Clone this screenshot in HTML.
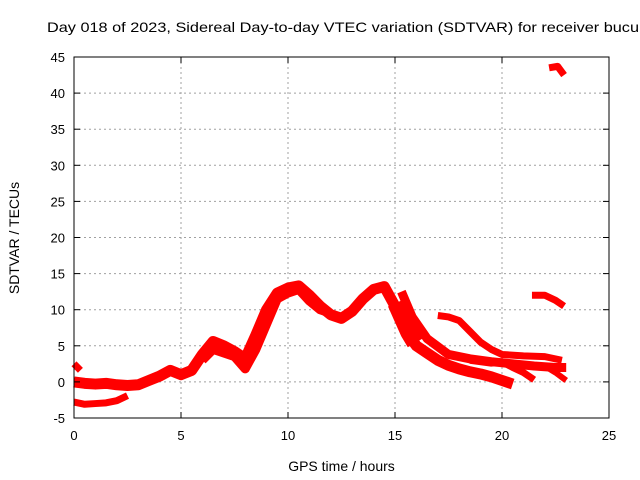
<!DOCTYPE html>
<html><head><meta charset="utf-8"><style>
html,body{margin:0;padding:0;background:#fff;overflow:hidden}
svg{display:block;font-family:"Liberation Sans",sans-serif}
</style></head><body>
<svg id="chart" width="640" height="480">
<text x="47" y="32" font-size="14" textLength="592" lengthAdjust="spacingAndGlyphs">Day 018 of 2023, Sidereal Day-to-day VTEC variation (SDTVAR) for receiver bucu</text>
<g id="grid"></g><g id="series"></g><g id="axes"></g>
</svg>
<script>
const xTicks=[0,5,10,15,20,25];
const yTicks=[-5,0,5,10,15,20,25,30,35,40,45];
const mainH=[0,0.5,1,1.5,2,2.5,3,3.5,4,4.5,5,5.5,6,6.5,7,7.5,8,8.5,9,9.5,10,10.5,11,11.5,12,12.5,13,13.5,14,14.5,15,15.5,16,16.5,17,17.5,18,18.5,19,19.5,20,20.5];
const mainV=[0,-0.2,-0.3,-0.2,-0.4,-0.5,-0.4,0.2,0.8,1.6,1.0,1.6,3.8,5.6,5.0,4.2,3.2,6.5,10,12.3,13,13.3,12,10.5,9.3,8.8,9.8,11.5,12.8,13.2,10.5,7,5,4,3,2.3,1.8,1.4,1.1,0.7,0.2,-0.3];
const bandH=[6,6.5,7,7.5,8,8.5,9,9.5,10,10.5,11,11.5,12];
const bandV=[3,4.5,4,3.5,1.8,4.5,8,11.5,12.3,12.8,11.2,10,9.5];
const lowH=[0,0.5,1,1.5,2,2.5];
const lowV=[-2.8,-3.1,-3.0,-2.9,-2.6,-1.9];
const startH=[0,0.3];
const startV=[2.5,1.6];
const blobH=[15.1,15.4,15.7,16];
const blobV=[11,9,7,5.5];
const br1H=[15.3,15.8,16.5,17.5,18.5,19.5,20.5,21.5,22.5,23];
const br1V=[12.5,9,6,3.8,3.2,2.8,2.5,2.2,2.0,2.0];
const br2H=[17,17.5,18,18.5,19,19.5,20,21,22,22.8];
const br2V=[9.2,9,8.5,7,5.5,4.5,3.8,3.6,3.5,3.0];
const br3H=[18.5,19.5,20,20.5,21,21.5];
const br3V=[3,2.6,2.8,2.0,1.3,0.3];
const br4H=[21,22,22.5,23];
const br4V=[2.2,2.2,1.3,0.2];
const arc1H=[21.4,22,22.5,22.9];
const arc1V=[12,12,11.3,10.5];
const arc2H=[22.2,22.6,22.9];
const arc2V=[43.5,43.7,42.5];
const X0=74,X1=609,Y0=418,Y1=57;
const sx=h=>X0+(h-0)/(25-0)*(X1-X0);
const sy=v=>Y0-(v+5)/50*(Y0-Y1);
const NS="http://www.w3.org/2000/svg";
const grid=document.getElementById('grid'),axes=document.getElementById('axes'),ser=document.getElementById('series');
function mk(tag,attrs,parent){const e=document.createElementNS(NS,tag);for(const k in attrs)e.setAttribute(k,attrs[k]);parent.appendChild(e);return e;}
xTicks.forEach(t=>{
 if(t>0&&t<25){const g=mk('line',{x1:sx(t),x2:sx(t),y1:Y1,y2:Y0,stroke:'#a0a0a0','stroke-dasharray':'2,3'},grid);
 
 }
 mk('line',{x1:sx(t),x2:sx(t),y1:Y0,y2:Y0-6,stroke:'#000'},axes);
 mk('line',{x1:sx(t),x2:sx(t),y1:Y1,y2:Y1+6,stroke:'#000'},axes);
 const l=mk('text',{x:sx(t),y:Y0+22,'text-anchor':'middle','font-size':'13'},axes);l.textContent=t;
 
 
});
yTicks.forEach(t=>{
 if(t>-5&&t<45){const g=mk('line',{x1:X0,x2:X1,y1:sy(t),y2:sy(t),stroke:'#a0a0a0','stroke-dasharray':'2,3'},grid);
 
 }
 mk('line',{x1:X0,x2:X0+6,y1:sy(t),y2:sy(t),stroke:'#000'},axes);
 mk('line',{x1:X1,x2:X1-6,y1:sy(t),y2:sy(t),stroke:'#000'},axes);
 const l=mk('text',{x:X0-9,y:sy(t)+5,'text-anchor':'end','font-size':'13'},axes);l.textContent=t;
 
 
});
const fr=mk('rect',{x:X0,y:Y1,width:X1-X0,height:Y0-Y1,fill:'none',stroke:'#000'},axes);


const xt=mk('text',{x:(X0+X1)/2,y:471,'text-anchor':'middle','font-size':'14'},axes);xt.textContent='GPS time / hours';


const yt=mk('text',{x:0,y:0,'text-anchor':'middle','font-size':'14',transform:'translate(19,238) rotate(-90)'},axes);yt.textContent='SDTVAR / TECUs';


function series(H,V,w,name){
 const pts=H.map((h,i)=>sx(h)+','+sy(V[i])).join(' ');
 const p=mk('polyline',{points:pts,fill:'none',stroke:'#f00','stroke-width':w,'stroke-linejoin':'round','stroke-linecap':'butt'},ser);
 
 
}
series(mainH,mainV,11,'series-main');
series(bandH,bandV,9,'series-band');
series(lowH,lowV,7,'series-low');
series(startH,startV,7,'series-start');
series(blobH,blobV,20,'series-blob');
series(br1H,br1V,9,'series-branch-1');
series(br2H,br2V,7,'series-branch-2');
series(br3H,br3V,7,'series-branch-3');
series(br4H,br4V,6,'series-branch-4');
series(arc1H,arc1V,7,'series-arc-12');
series(arc2H,arc2V,7,'series-arc-43');
</script>
</body></html>
